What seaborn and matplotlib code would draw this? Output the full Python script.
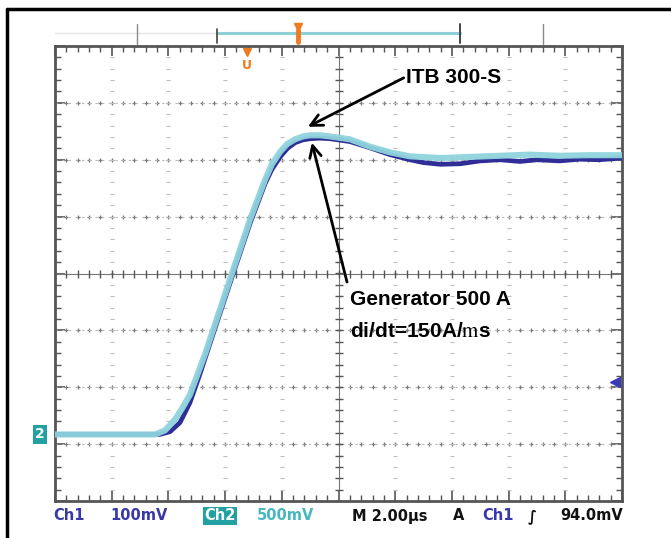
import numpy as np
import pandas as pd
import matplotlib
matplotlib.use("Agg")
import matplotlib.pyplot as plt
from matplotlib.lines import Line2D
import seaborn as sns

# Time base: 2 us/div, 10 divisions. Vertical values in screen divisions.
time_ch1_us = [0.0, 3.70, 4.06, 4.41, 4.76, 5.11, 5.64, 6.24, 6.88, 7.41, 7.65, 7.94,
               8.20, 8.47, 8.75, 9.00, 9.35, 9.70, 10.40, 11.11, 11.82, 12.52, 13.00,
               13.60, 14.30, 15.00, 15.70, 16.40, 17.00, 17.80, 18.50, 19.20, 20.0]
ch1_div = [-2.83, -2.83, -2.78, -2.62, -2.27, -1.77, -0.97, -0.07, 0.88, 1.58, 1.83,
           2.05, 2.20, 2.30, 2.35, 2.37, 2.38, 2.37, 2.32, 2.21, 2.09, 2.00, 1.95,
           1.92, 1.93, 1.98, 2.00, 1.97, 2.00, 1.98, 2.01, 2.00, 2.03]

time_ch2_us = [0.0, 3.53, 3.88, 4.23, 4.50, 4.76, 5.29, 5.82, 6.24, 6.88, 7.41, 7.65,
               7.94, 8.20, 8.47, 8.75, 9.00, 9.35, 9.70, 10.40, 11.11, 11.82, 12.52,
               13.60, 14.64, 15.70, 16.75, 17.81, 18.87, 20.0]
ch2_div = [-2.83, -2.83, -2.76, -2.57, -2.36, -2.13, -1.42, -0.63, 0.0, 0.95, 1.65,
           1.92, 2.14, 2.28, 2.36, 2.41, 2.43, 2.43, 2.41, 2.36, 2.23, 2.13, 2.06,
           2.03, 2.05, 2.07, 2.09, 2.07, 2.08, 2.08]

ch1_trigger_div = -1.90
ground_div = -2.83

status_left = ["Ch1", "100mV", "Ch2", "500mV"]
status_right = ["M 2.00µs", "A", "Ch1", "∫", "94.0mV"]

CH1_COLOR = "#2e2e96"
CH2_COLOR = "#8fd3dc"
TEAL = "#22a0a2"
ORANGE = "#f07a1e"

sns.set_theme(style="white")
plt.rcParams["font.family"] = ["Liberation Sans", "DejaVu Sans"]
plt.rcParams["mathtext.fontset"] = "stix"

W, H = 671, 538
fig = plt.figure(figsize=(W / 100, H / 100), dpi=100)
fig.patch.set_facecolor("white")
ax = fig.add_axes([55 / W, 1 - 501 / H, 567 / W, 455 / H])
ax.set_xlim(0, 20)
ax.set_ylim(-4, 4)

# Graticule: dotted division lines with fine sub-division marks
xs_fine = np.arange(0, 20.001, 0.4)
ys_fine = np.arange(-4, 4.001, 0.2)
for yv in range(-3, 4):
    if yv == 0:
        continue
    ax.plot(xs_fine, np.full_like(xs_fine, yv), ls="none", marker="+", ms=3.5,
            mew=0.9, color="#7a7a7a", zorder=1)
    ax.plot([0, 20], [yv, yv], ls=(0, (2, 4)), lw=0.8, color="#b8b8b8", zorder=1)
for xv in range(2, 20, 2):
    if xv == 10:
        continue
    ax.plot(np.full_like(ys_fine, xv), ys_fine, ls="none", marker="_", ms=3.5,
            mew=0.8, color="#bdbdbd", zorder=1)
# Center cross with tick marks
ax.axhline(0, color="#777777", lw=0.8, zorder=1)
ax.axvline(10, color="#777777", lw=0.8, zorder=1)
ax.plot(xs_fine, np.zeros_like(xs_fine), ls="none", marker="|", ms=6, mew=1.0,
        color="#555555", zorder=1)
ax.plot(np.full_like(ys_fine, 10), ys_fine, ls="none", marker="_", ms=6, mew=1.0,
        color="#555555", zorder=1)

# Traces
df1 = pd.DataFrame({"t": time_ch1_us, "v": ch1_div})
df2 = pd.DataFrame({"t": time_ch2_us, "v": ch2_div})
sns.lineplot(data=df1, x="t", y="v", ax=ax, color=CH1_COLOR, lw=3.4, sort=False,
             estimator=None, zorder=3)
sns.lineplot(data=df2, x="t", y="v", ax=ax, color=CH2_COLOR, lw=4.4, sort=False,
             estimator=None, zorder=4, alpha=0.95)

ax.set_xlabel("")
ax.set_ylabel("")
ax.set_xticks(np.arange(0, 20.001, 2))
ax.set_xticks(xs_fine, minor=True)
ax.set_yticks(np.arange(-4, 4.001, 1))
ax.set_yticks(ys_fine, minor=True)
ax.tick_params(which="both", direction="in", top=True, right=True, bottom=True,
               left=True, labelbottom=False, labelleft=False, color="#555555")
ax.tick_params(which="major", length=7, width=1.2)
ax.tick_params(which="minor", length=4, width=1.0)
for sp in ax.spines.values():
    sp.set_color("#555555")
    sp.set_linewidth(2.0)

# Channel markers
ax.text(-0.53, ground_div, "2", color="white", fontsize=10, fontweight="bold",
        ha="center", va="center", family="DejaVu Sans", clip_on=False,
        bbox=dict(boxstyle="square,pad=0.15", fc=TEAL, ec="none"))
ax.plot([19.75], [ch1_trigger_div], marker="<", ms=7, color="#3a3ab8",
        clip_on=False, zorder=5)

# Record bar and trigger markers above the screen
ax.plot([0.0, 5.71], [4.22, 4.22], color="#e8e2e2", lw=1.0, clip_on=False)
ax.plot([5.71, 14.28], [4.22, 4.22], color="#8fd0d8", lw=2.2, clip_on=False)
ax.plot([5.71, 5.71], [4.05, 4.30], color="#444444", lw=1.2, clip_on=False)
ax.plot([14.28, 14.28], [4.05, 4.38], color="#444444", lw=1.4, clip_on=False)
for xg in (2.89, 17.21):
    ax.plot([xg, xg], [4.03, 4.38], color="#8a8a8a", lw=1.0, clip_on=False)
ax.plot([8.57], [4.33], marker="v", ms=6, color=ORANGE, clip_on=False)
ax.plot([8.57, 8.57], [4.07, 4.28], color=ORANGE, lw=3.5, clip_on=False)
ax.plot([6.77], [3.90], marker="v", ms=6, color=ORANGE, clip_on=False)
ax.text(6.77, 3.66, "U", color=ORANGE, fontsize=9, fontweight="bold",
        ha="center", va="center", family="DejaVu Sans")

# Annotations
ax.text(12.38, 3.44, "ITB 300-S", fontsize=15, fontweight="bold", ha="left",
        va="center", color="black")
ax.annotate("", xy=(8.92, 2.58), xytext=(12.30, 3.44),
            arrowprops=dict(arrowstyle="->,head_length=0.7,head_width=0.35",
                            lw=2.0, color="black", shrinkA=0, shrinkB=0))
ax.text(10.40, -0.46, "Generator 500 A", fontsize=15, fontweight="bold",
        ha="left", va="center", color="black")
ax.text(10.40, -1.02, r"di/dt=150A/$\mathrm{m}$s", fontsize=15, fontweight="bold",
        ha="left", va="center", color="black")
ax.annotate("", xy=(9.06, 2.30), xytext=(10.30, -0.15),
            arrowprops=dict(arrowstyle="->,head_length=0.7,head_width=0.35",
                            lw=2.0, color="black", shrinkA=0, shrinkB=0))

# Status line below the screen
yb = 1 - 516 / H
fs = 10.5
fig.text(53 / W, yb, status_left[0], color="#3838a8", fontsize=fs,
         fontweight="bold", va="center", family="DejaVu Sans")
fig.text(110 / W, yb, status_left[1], color="#3838a8", fontsize=fs,
         fontweight="bold", va="center", family="DejaVu Sans")
fig.text(204 / W, yb, status_left[2], color="white", fontsize=fs,
         fontweight="bold", va="center", family="DejaVu Sans",
         bbox=dict(boxstyle="square,pad=0.1", fc=TEAL, ec="none"))
fig.text(257 / W, yb, status_left[3], color="#46b8be", fontsize=fs,
         fontweight="bold", va="center", family="DejaVu Sans")
fig.text(352 / W, yb, status_right[0], color="#111111", fontsize=fs,
         fontweight="bold", va="center", family="DejaVu Sans")
fig.text(453 / W, yb, status_right[1], color="#111111", fontsize=fs,
         fontweight="bold", va="center", family="DejaVu Sans")
fig.text(482 / W, yb, status_right[2], color="#3838a8", fontsize=fs,
         fontweight="bold", va="center", family="DejaVu Sans")
fig.text(528 / W, yb, status_right[3], color="#111111", fontsize=fs,
         fontweight="bold", va="center", family="DejaVu Sans")
fig.text(623 / W, yb, status_right[4], color="#111111", fontsize=fs,
         fontweight="bold", va="center", ha="right", family="DejaVu Sans")

# Outer frame
fig.add_artist(Line2D([7 / W, 1.0], [1 - 9 / H, 1 - 9 / H], color="black", lw=2.5,
                      transform=fig.transFigure))
fig.add_artist(Line2D([7 / W, 7 / W], [0.0, 1 - 9 / H], color="black", lw=2.5,
                      transform=fig.transFigure))

fig.savefig("out.png", dpi=100)
